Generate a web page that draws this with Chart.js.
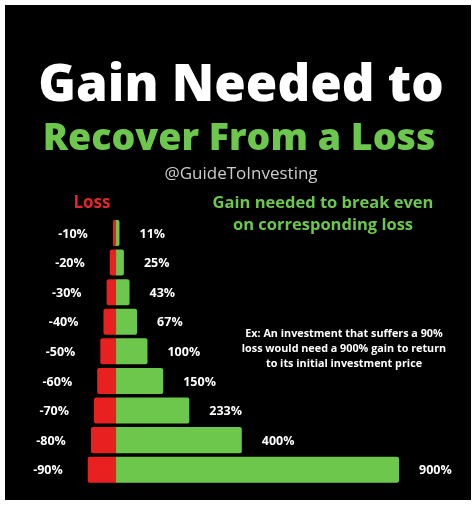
<!DOCTYPE html>
<html>
<head>
<meta charset="utf-8">
<script src="https://cdn.jsdelivr.net/npm/chart.js@4/dist/chart.umd.min.js"></script>
<style>
  html, body { margin: 0; padding: 0; background: #fff; }
  canvas { display: block; }
</style>
</head>
<body>
<canvas id="recoveryChart" width="476" height="506"></canvas>
<script>
// loss taken vs. gain needed to get back to the starting price
var lossLabels = ['-10%', '-20%', '-30%', '-40%', '-50%', '-60%', '-70%', '-80%', '-90%'];
var lossValues = [-10, -20, -30, -40, -50, -60, -70, -80, -90];
var gainValues = [11, 25, 43, 67, 100, 150, 233, 400, 900];
var gainLabels = ['11%', '25%', '43%', '67%', '100%', '150%', '233%', '400%', '900%'];

var RED = '#e8201f';
var GREEN = '#6cc74c';
var FONT = '"Open Sans", "DejaVu Sans", sans-serif';

// black card, headings and the % labels beside each bar
var posterPlugin = {
    id: 'poster',
    beforeDraw: function (chart) {
        var c = chart.ctx;
        c.save();
        c.fillStyle = '#ffffff';
        c.fillRect(0, 0, chart.width, chart.height);
        c.fillStyle = '#000000';
        c.fillRect(5, 5, 466, 495);
        c.restore();
    },
    afterDatasetsDraw: function (chart) {
        var c = chart.ctx;
        c.save();
        c.textAlign = 'center';
        c.textBaseline = 'alphabetic';

        c.fillStyle = '#ffffff';
        c.font = '800 51px ' + FONT;
        c.fillText('Gain Needed to', 241, 101);
        c.fillStyle = GREEN;
        c.font = '800 37.5px ' + FONT;
        c.fillText('Recover From a Loss', 239, 150);

        c.fillStyle = '#cccccc';
        c.font = '400 17px ' + FONT;
        c.fillText('@GuideToInvesting', 241, 179);

        c.fillStyle = '#e3262b';
        c.font = '700 17px ' + FONT;
        c.fillText('Loss', 92, 208);

        c.fillStyle = GREEN;
        c.font = '700 16.5px ' + FONT;
        c.fillText('Gain needed to break even', 323, 208);
        c.fillText('on corresponding loss', 323, 230);

        c.fillStyle = '#ffffff';
        c.font = '700 10.8px ' + FONT;
        c.fillText('Ex: An investment that suffers a 90%', 344, 337);
        c.fillText('loss would need a 900% gain to return', 344, 352);
        c.fillText('to its initial investment price', 344, 367);

        // value labels
        c.font = '700 12.5px ' + FONT;
        c.textBaseline = 'middle';
        var lossMeta = chart.getDatasetMeta(0);
        var gainMeta = chart.getDatasetMeta(1);
        lossMeta.data.forEach(function (bar, i) {
            c.textAlign = 'right';
            c.fillText(lossLabels[i], bar.x - 25, bar.y + 1);
        });
        gainMeta.data.forEach(function (bar, i) {
            c.textAlign = 'left';
            c.fillText(gainLabels[i], bar.x + 20, bar.y + 1);
        });
        c.restore();
    }
};

var ctx = document.getElementById('recoveryChart').getContext('2d');
var recoveryChart = new Chart(ctx, {
    type: 'bar',
    data: {
        labels: lossLabels,
        datasets: [{
            label: 'Loss',
            data: lossValues,
            backgroundColor: RED,
            borderRadius: 2,
            barPercentage: 0.88,
            categoryPercentage: 1
        }, {
            label: 'Gain needed',
            data: gainValues,
            backgroundColor: GREEN,
            borderRadius: 2,
            barPercentage: 0.88,
            categoryPercentage: 1
        }]
    },
    options: {
        indexAxis: 'y',
        responsive: false,
        animation: false,
        layout: {
            padding: { left: 21.7, right: 14.1, top: 218.2, bottom: 21.5 }
        },
        scales: {
            x: { stacked: true, display: false, min: -300, max: 1100 },
            y: { stacked: true, display: false }
        },
        plugins: {
            legend: { display: false },
            title: { display: false },
            tooltip: { enabled: false }
        }
    },
    plugins: [posterPlugin]
});
</script>
</body>
</html>
